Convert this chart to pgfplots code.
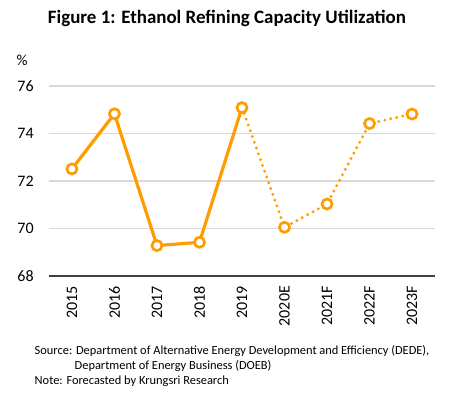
\documentclass[border=0pt]{standalone}
\usepackage{pgfplots}
\pgfplotsset{compat=1.18}
\usepackage{fontspec}
\setmainfont{Carlito}
\definecolor{ora}{RGB}{255,157,0}
\definecolor{gridc}{RGB}{217,217,217}
\definecolor{axc}{RGB}{64,64,64}
\begin{document}
\begin{tikzpicture}[x=1pt,y=1pt]
\useasboundingbox (0,0) rectangle (337.5,297);
\node[font=\fontsize{14.2}{16}\selectfont\bfseries] at (170.25,283.5) {Figure 1: Ethanol Refining Capacity Utilization};
\node[font=\fontsize{11.5}{13}\selectfont] at (16.5,252) {\%};
\begin{axis}[
  at={(36.75pt,90pt)}, anchor=south west,
  scale only axis, width=289.5pt, height=142.5pt,
  xmin=-0.54, xmax=8.54, ymin=68, ymax=76,
  ytick={68,70,...,76},
  xtick={0,...,8},
  xticklabels={2015,2016,2017,2018,2019,2020E,2021F,2022F,2023F},
  x tick label style={rotate=90, anchor=east, font=\fontsize{12}{13}\selectfont},
  y tick label style={font=\fontsize{12}{13}\selectfont},
  /pgf/number format/assume math mode=true,
  major tick length=0pt,
  axis x line*=bottom, axis y line*=left,
  y axis line style={draw=none},
  x axis line style={draw=axc, line width=0.9pt, -},
  ymajorgrids, grid style={draw=gridc, line width=0.8pt},
  xticklabel shift=4pt, yticklabel shift=8pt,
  clip=false,
]
\addplot[ora, line width=2.4pt, line cap=round, dash pattern=on 0pt off 4.6pt] coordinates {(4,75.09) (5,70.05) (6,71.03) (7,74.42) (8,74.82)};
\addplot[ora, line width=2.4pt, line join=round] coordinates {(0,72.51) (1,74.83) (2,69.28) (3,69.42) (4,75.09)};
\addplot[only marks, mark=*, mark size=3.8pt, mark options={draw=ora, fill=white, line width=2pt}] coordinates {(0,72.51) (1,74.83) (2,69.28) (3,69.42) (4,75.09) (5,70.05) (6,71.03) (7,74.42) (8,74.82)};
\end{axis}
\node[anchor=west, font=\fontsize{9.3}{11}\selectfont] at (22.5,33.75) {Source: Department of Alternative Energy Development and Efficiency (DEDE),};
\node[anchor=west, font=\fontsize{9.3}{11}\selectfont] at (52.5,22.5) {Department of Energy Business (DOEB)};
\node[anchor=west, font=\fontsize{9.3}{11}\selectfont] at (22.5,11.25) {Note: Forecasted by Krungsri Research};
\end{tikzpicture}
\end{document}
